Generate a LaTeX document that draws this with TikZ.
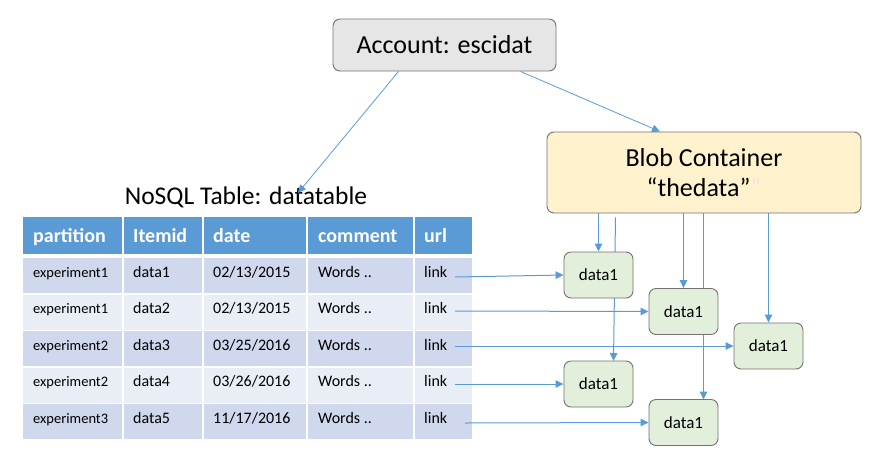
\documentclass[tikz,border=0pt]{standalone}
\usepackage{fontspec}
\setmainfont{Carlito}
\usetikzlibrary{arrows.meta}

\definecolor{linkblue}{HTML}{5B9BD5}
\definecolor{headblue}{HTML}{5B9BD5}
\definecolor{rowdark}{HTML}{CFD8EC}
\definecolor{rowlight}{HTML}{E9EEF6}
\definecolor{accountgray}{HTML}{E7E6E6}
\definecolor{blobyellow}{HTML}{FFF2CC}
\definecolor{itemgreen}{HTML}{E2EFDA}
\definecolor{edgegray}{HTML}{767171}
\definecolor{quotefaint}{HTML}{ECE8DE}

\tikzset{
  link/.style={draw=linkblue, line width=1pt, -{Triangle[length=8pt,width=7.5pt]}},
  roundbox/.style={draw=edgegray, line width=0.9pt, rounded corners=7pt, align=center},
  itembox/.style={roundbox, fill=itemgreen, minimum width=69pt, minimum height=46pt,
    font=\fontsize{17}{20}\selectfont},
  celltext/.style={anchor=base west, inner sep=0pt, font=\fontsize{16}{18}\selectfont},
  parttext/.style={celltext, font=\fontsize{14.5}{17}\selectfont},
  headtext/.style={celltext, text=white, font=\fontsize{20}{22}\selectfont\bfseries}
}

% one table row: number, top, fill, then the five cells
\newcommand{\datarow}[8]{%
  \fill[#3] (23,#2) rectangle (122,#2+35);
  \fill[#3] (124,#2) rectangle (202,#2+35);
  \fill[#3] (204,#2) rectangle (306,#2+35);
  \fill[#3] (308,#2) rectangle (413,#2+35);
  \fill[#3] (415,#2) rectangle (472,#2+35);
  \node[parttext] (part#1) at (33,#2+19) {#4};
  \node[celltext] (item#1) at (133,#2+19) {#5};
  \node[celltext] (date#1) at (213,#2+19) {#6};
  \node[celltext] (note#1) at (318,#2+19) {#7};
  \node[celltext] (url#1) at (424,#2+19) {#8};
}

\begin{document}
\begin{tikzpicture}[x=1pt, y=-1pt]
  \useasboundingbox (0,0) rectangle (873,472);

  % account and container
  \node[roundbox, fill=accountgray, minimum width=223pt, minimum height=52pt,
    font=\fontsize{26}{30}\selectfont] (account) at (444.5,45) {Account: escidat};
  \node[roundbox, fill=blobyellow, minimum width=314pt, minimum height=81pt,
    font=\fontsize{26}{30}\selectfont] (blob) at (704,172.5)
    {Blob Container\\“thedata”{\color{quotefaint}”}};

  % table
  \node[font=\fontsize{25.5}{30}\selectfont] (tabletitle) at (246,197) {NoSQL Table: datatable};

  \fill[headblue] (23,217) rectangle (122,254);
  \fill[headblue] (124,217) rectangle (202,254);
  \fill[headblue] (204,217) rectangle (306,254);
  \fill[headblue] (308,217) rectangle (413,254);
  \fill[headblue] (415,217) rectangle (472,254);
  \node[headtext] (hpart) at (33,242) {partition};
  \node[headtext] (hitem) at (133,242) {Itemid};
  \node[headtext] (hdate) at (213,242) {date};
  \node[headtext] (hnote) at (318,242) {comment};
  \node[headtext] (hurl) at (424,242) {url};

  \datarow{1}{258}{rowdark}{experiment1}{data1}{02/13/2015}{Words ..}{link}
  \datarow{2}{294.5}{rowlight}{experiment1}{data2}{02/13/2015}{Words ..}{link}
  \datarow{3}{331}{rowdark}{experiment2}{data3}{03/25/2016}{Words ..}{link}
  \datarow{4}{367.5}{rowlight}{experiment2}{data4}{03/26/2016}{Words ..}{link}
  \datarow{5}{404}{rowdark}{experiment3}{data5}{11/17/2016}{Words ..}{link}

  \coordinate (link1) at (455,277);
  \coordinate (link2) at (455,311);
  \coordinate (link3) at (455,346);
  \coordinate (link4) at (455,384);
  \coordinate (link5) at (465,423);

  % blob items
  \coordinate (box1) at (598.5,275);
  \coordinate (box4) at (598.5,384);
  \coordinate (box5) at (683.5,422.5);

  % long lines pass behind the boxes
  \draw[link] ([xshift=17pt,yshift=-4pt]blob.south -| box4) -- ([xshift=15pt,yshift=23pt]box4);
  \draw[link] ([xshift=20pt]blob.south -| box5) -- ([xshift=20pt,yshift=23pt]box5);

  \node[itembox] (item1) at (box1) {data1};
  \node[itembox] (item2) at (683.5,311.5) {data1};
  \node[itembox] (item3) at (768.5,346) {data1};
  \node[itembox] (item4) at (box4) {data1};
  \node[itembox] (item5) at (box5) {data1};

  % connectors
  \draw[link, line width=0.8pt] ([xshift=-46pt]account.south) -- ([xshift=52pt,yshift=-10pt]tabletitle.north);
  \draw[link, line width=0.8pt] ([xshift=76pt]account.south) -- ([xshift=-44pt]blob.north);

  \draw[link] (item1.north |- blob.south) -- (item1.north);
  \draw[link] (item2.north |- blob.south) -- (item2.north);
  \draw[link] (item3.north |- blob.south) -- (item3.north);

  \draw[link] (link1) -- (item1.west);
  \draw[link] (link2) -- (item2.west);
  \draw[link] (link3) -- (item3.west);
  \draw[link] (link4) -- (item4.west);
  \draw[link] (link5) -- (item5.west);
\end{tikzpicture}
\end{document}
